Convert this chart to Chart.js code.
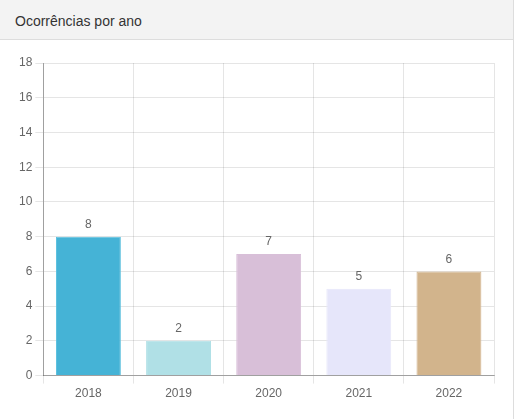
<!DOCTYPE html>
<html>
<head>
<meta charset="utf-8">
<script src="https://cdn.jsdelivr.net/npm/chart.js@4/dist/chart.umd.min.js"></script>
<style>
  body { margin: 0; background: #fff; font-family: Arial, 'Liberation Sans', sans-serif; }
  .card { position: absolute; left: -1px; top: -1px; width: 513px; height: 430px; border: 1px solid #ddd; }
  .card-header { height: 40px; background: #f3f3f3; border-bottom: 1px solid #ddd; box-sizing: border-box; padding: 13px 0 0 15px; font-size: 14px; color: #333; }
  .card-body { position: absolute; left: 0; top: 41px; width: 512px; height: 378px; }
</style>
</head>
<body>
<div class="card">
  <div class="card-header">Ocorrências por ano</div>
  <div class="card-body"><canvas id="chart"></canvas></div>
</div>
<script>
const anos = ['2018', '2019', '2020', '2021', '2022']
const ocorrencias = [8, 2, 7, 5, 6]
const cores = ['#45b3d6', '#b0e0e6', '#d8bfd8', '#e6e6fa', '#d2b48c']
const bordas = ['#5bc0de', '#b0e0e6', '#d8bfd8', '#e6e6fa', '#d2b48c']

// writes the value above each bar
const valueLabels = {
  id: 'valueLabels',
  afterDatasetsDraw(chart) {
    const ctx = chart.ctx
    ctx.save()
    ctx.fillStyle = '#666'
    ctx.font = '12px Arial'
    ctx.textAlign = 'center'
    ctx.textBaseline = 'middle'
    chart.getDatasetMeta(0).data.forEach((bar, i) => {
      ctx.fillText(chart.data.datasets[0].data[i], bar.x, bar.y - 12)
    })
    ctx.restore()
  }
}

new Chart(document.getElementById('chart'), {
  type: 'bar',
  data: {
    labels: anos,
    datasets: [{
      data: ocorrencias,
      backgroundColor: cores,
      borderColor: bordas,
      borderWidth: 1
    }]
  },
  options: {
    responsive: true,
    maintainAspectRatio: false,
    animation: false,
    layout: { padding: { left: 16, right: 18, top: 22, bottom: 15 } },
    plugins: { legend: { display: false }, tooltip: { enabled: false } },
    scales: {
      x: {
        grid: { color: 'rgba(0,0,0,0.1)' },
        border: { color: 'rgba(0,0,0,0.3)' },
        ticks: { color: '#666', font: { size: 12, family: 'Arial' } }
      },
      y: {
        min: 0,
        max: 18,
        ticks: { stepSize: 2, color: '#666', font: { size: 12, family: 'Arial' } },
        grid: { color: 'rgba(0,0,0,0.1)' },
        border: { color: 'rgba(0,0,0,0.3)' }
      }
    }
  },
  plugins: [valueLabels]
})
</script>
</body>
</html>
